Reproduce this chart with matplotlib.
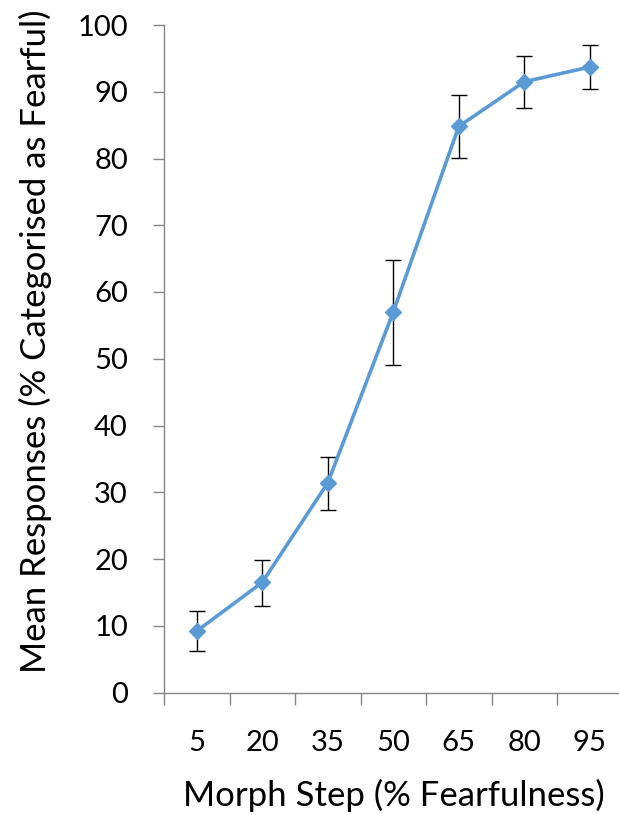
import matplotlib
matplotlib.use("Agg")
import matplotlib.pyplot as plt
import numpy as np

categories = ["5", "20", "35", "50", "65", "80", "95"]
means = [9.2, 16.5, 31.4, 57.0, 84.8, 91.5, 93.7]
err_low = [3.0, 3.6, 4.1, 8.0, 4.7, 3.9, 3.3]
err_high = [3.0, 3.4, 3.9, 7.8, 4.7, 3.9, 3.3]
yticks = list(range(0, 101, 10))

plt.rcParams['font.family'] = ['Lato', 'DejaVu Sans']

W, H = 619, 815
fig = plt.figure(figsize=(W / 100, H / 100), dpi=100)
left = 164 / W
bottom = (H - 692.5) / H
width = 458.5 / W
height = 667.5 / H
ax = fig.add_axes([left, bottom, width, height])

x = np.arange(len(categories))
gray = "#868686"
ax.errorbar(x, means, yerr=[err_low, err_high], fmt="none", ecolor="black",
            elinewidth=1.0, capsize=5.5, capthick=1.0, zorder=2)
ax.plot(x, means, color="#5B9BD5", lw=2.6, marker="D", ms=8.5,
        markeredgecolor="#5B9BD5", markerfacecolor="#5B9BD5", zorder=3,
        solid_capstyle="round", clip_on=False)

ax.set_xlim(-0.5, len(categories) - 0.5)
ax.set_ylim(0, 100)
ax.set_yticks(yticks)
ax.set_yticklabels([str(v) for v in yticks])
ax.set_xticks(x)
ax.set_xticklabels(categories)
ax.set_xticks(np.arange(-0.5, len(categories), 1.0), minor=True)

for s in ["top", "right"]:
    ax.spines[s].set_visible(False)
for s in ["left", "bottom"]:
    ax.spines[s].set_color(gray)
    ax.spines[s].set_linewidth(1.0)

ax.tick_params(axis="y", direction="out", length=8, width=1.0, color=gray,
               labelsize=21, pad=18, labelcolor="black")
ax.tick_params(axis="x", which="major", length=0, labelsize=21, pad=27,
               labelcolor="black")
ax.tick_params(axis="x", which="minor", direction="out", length=8.5,
               width=1.0, color=gray)

ax.set_ylabel("Mean Responses (% Categorised as Fearful)", fontsize=25)
ax.set_xlabel("Morph Step (% Fearfulness)", fontsize=25)
ax.yaxis.label.set_va("center")
ax.xaxis.label.set_va("center")
ax.yaxis.set_label_coords((35 - 164) / 458.5, ((H - 341) - 122.5) / 667.5)
ax.xaxis.set_label_coords((394 - 164) / 458.5, ((H - 795) - 122.5) / 667.5)

fig.savefig("out.png", dpi=100, facecolor="white")
